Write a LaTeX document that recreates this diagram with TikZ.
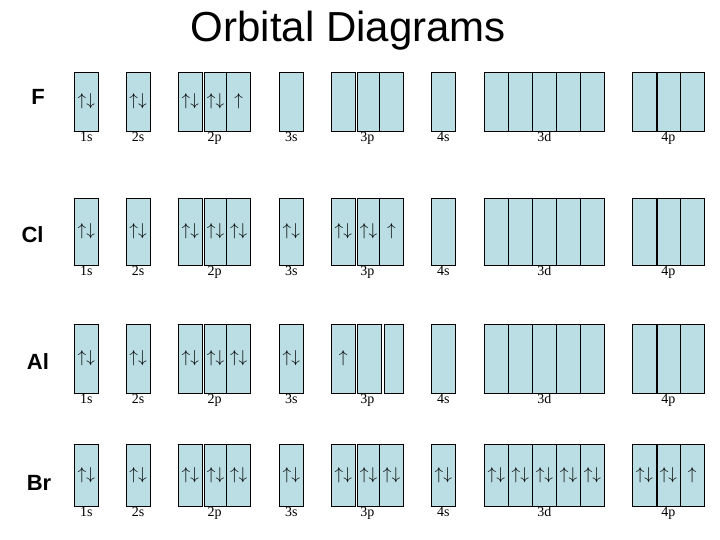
\documentclass[tikz,border=0pt]{standalone}
\usepackage{fontspec}
\setmainfont{Liberation Serif}
\newfontfamily\sansfont{Liberation Sans}
\definecolor{orbblue}{RGB}{186,222,227}
\newcommand{\pairarr}{$\uparrow\downarrow$}
\newcommand{\onearr}{$\uparrow$}
\newcommand{\noarr}{}
\tikzset{
  orbbox/.style={draw, fill=orbblue, line width=0.8pt, inner sep=0pt, outer sep=0pt,
    anchor=north west, font=\fontsize{18}{18}\selectfont},
  shelllbl/.style={anchor=base, font=\fontsize{14}{14}\selectfont},
  elemlbl/.style={anchor=base, font=\sansfont\bfseries\fontsize{22}{22}\selectfont},
}
\begin{document}
\begin{tikzpicture}[x=1pt, y=-1pt]
  \useasboundingbox (0,0) rectangle (720,540);
  % タイトル
  \node[anchor=base, font=\sansfont\fontsize{42}{42}\selectfont] (title) at (348.5,42) {Orbital Diagrams};
  % F の軌道
  \foreach \x/\w/\c [count=\i] in {74/24.5/\pairarr, 126/24/\pairarr, 178/24.7/\pairarr, 204.3/22.4/\pairarr,
      226.7/24/\onearr, 279.3/24/\noarr, 331.3/24/\noarr, 357.5/22/\noarr, 379.5/24/\noarr, 431.3/24/\noarr,
      484.3/24/\noarr, 508.3/24/\noarr, 532.3/24.2/\noarr, 556.5/24/\noarr, 580.5/23.8/\noarr,
      632.3/24.3/\noarr, 656.6/23.7/\noarr, 680.3/24/\noarr}
    \node[orbbox, minimum width=\w pt, minimum height=59pt] (F-\i) at (\x,72) {\c};
  % Cl の軌道
  \foreach \x/\w/\c [count=\i] in {74/24.5/\pairarr, 126/24/\pairarr, 178/24.7/\pairarr, 204.3/22.4/\pairarr,
      226.7/24/\pairarr, 279.3/24/\pairarr, 331.3/24/\pairarr, 357.5/22/\pairarr, 379.5/24/\onearr, 431.3/24/\noarr,
      484.3/24/\noarr, 508.3/24/\noarr, 532.3/24.2/\noarr, 556.5/24/\noarr, 580.5/23.8/\noarr,
      632.3/24.3/\noarr, 656.6/23.7/\noarr, 680.3/24/\noarr}
    \node[orbbox, minimum width=\w pt, minimum height=67pt] (Cl-\i) at (\x,198) {\c};
  % Al の軌道 (3p の箱は間があく)
  \foreach \x/\w/\c [count=\i] in {74/24.5/\pairarr, 126/24/\pairarr, 178/24.7/\pairarr, 204.3/22.4/\pairarr,
      226.7/24/\pairarr, 279.3/24/\pairarr, 331.3/24/\onearr, 357.3/24/\noarr, 384.3/19/\noarr, 431.3/24/\noarr,
      484.3/24/\noarr, 508.3/24/\noarr, 532.3/24.2/\noarr, 556.5/24/\noarr, 580.5/23.8/\noarr,
      632.3/24.3/\noarr, 656.6/23.7/\noarr, 680.3/24/\noarr}
    \node[orbbox, minimum width=\w pt, minimum height=69pt] (Al-\i) at (\x,324) {\c};
  % Br の軌道
  \foreach \x/\w/\c [count=\i] in {74/24.5/\pairarr, 126/24/\pairarr, 178/24.7/\pairarr, 204.3/22.4/\pairarr,
      226.7/24/\pairarr, 279.3/24/\pairarr, 331.3/24/\pairarr, 357.5/22/\pairarr, 379.5/24/\pairarr, 431.3/24/\pairarr,
      484.3/24/\pairarr, 508.3/24/\pairarr, 532.3/24.2/\pairarr, 556.5/24/\pairarr, 580.5/23.8/\pairarr,
      632.3/24.3/\pairarr, 656.6/23.7/\pairarr, 680.3/24/\onearr}
    \node[orbbox, minimum width=\w pt, minimum height=62pt] (Br-\i) at (\x,444) {\c};
  % 元素記号, 軌道名, 太い仕切り
  \foreach \r/\top/\h/\ex/\ey in {F/72/59/38/105, Cl/198/67/32.5/243, Al/324/69/38/369, Br/444/62/39/490} {
    \node[elemlbl] (\r) at (\ex,\ey) {\r};
    \foreach \lx/\lt in {86.3/1s, 138/2s, 214.5/2p, 291.3/3s, 367.3/3p, 443.3/4s, 544.3/3d, 668.3/4p}
      \node[shelllbl] (\r-\lt) at (\lx,\top+\h+10.5) {\lt};
    \draw[line width=1.8pt] (\r-14.north west) -- (\r-14.south west);
    \draw[line width=1.8pt] (\r-17.north west) -- (\r-17.south west);
  }
\end{tikzpicture}
\end{document}
